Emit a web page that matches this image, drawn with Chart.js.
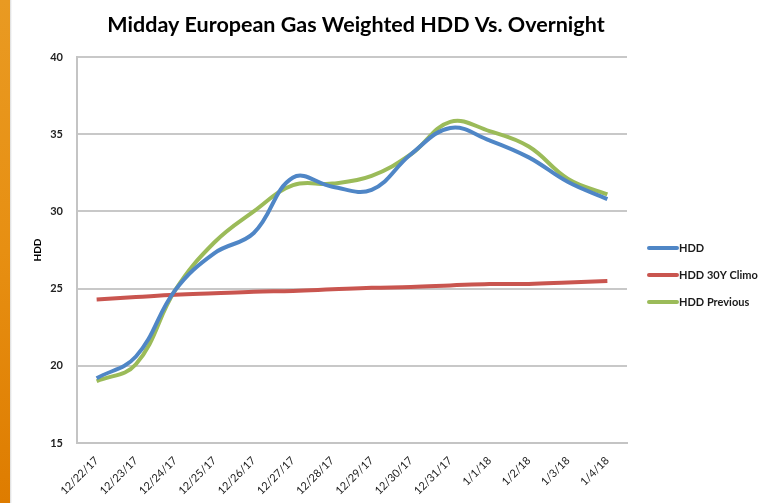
<!DOCTYPE html>
<html>
<head>
<meta charset="utf-8">
<script src="https://cdn.jsdelivr.net/npm/chart.js@4/dist/chart.umd.min.js"></script>
<style>
  html, body { margin: 0; padding: 0; }
  body {
    width: 765px; height: 503px; overflow: hidden;
    background: linear-gradient(to right, transparent 0, transparent 10px, #d9d9d9 10px, #ffffff 12px),
                linear-gradient(to bottom, #e99a22 0%, #e78f12 50%, #de7c00 100%);
    background-size: 765px 503px, 10px 503px;
    background-repeat: no-repeat;
    background-color: #fff;
  }
  #wrap { position: absolute; left: 0; top: 0; width: 765px; height: 503px; }
</style>
</head>
<body>
<div id="wrap"><canvas id="c" width="765" height="503"></canvas></div>
<script>
const categories = ["12/22/17","12/23/17","12/24/17","12/25/17","12/26/17","12/27/17","12/28/17","12/29/17","12/30/17","12/31/17","1/1/18","1/2/18","1/3/18","1/4/18"];
const hdd = [19.2, 20.6, 24.9, 27.3, 28.6, 32.2, 31.6, 31.4, 33.7, 35.4, 34.6, 33.5, 31.9, 30.8];
const hddClimo = [24.3, 24.45, 24.6, 24.7, 24.8, 24.85, 24.95, 25.05, 25.1, 25.2, 25.3, 25.3, 25.4, 25.5];
const hddPrevious = [19.0, 20.1, 24.9, 28.0, 30.0, 31.7, 31.8, 32.3, 33.7, 35.8, 35.2, 34.2, 32.1, 31.1];
const yTicks = [15, 20, 25, 30, 35, 40];
const titleText = "Midday European Gas Weighted HDD Vs. Overnight";
const yTitle = "HDD";

const FONT = "Lato, 'Liberation Sans', sans-serif";

const decorPlugin = {
  id: 'decor',
  afterDraw(chart) {
    const ctx = chart.ctx;
    ctx.save();
    // title
    ctx.fillStyle = '#000';
    ctx.font = "bold 21.5px " + FONT;
    ctx.textAlign = 'center';
    ctx.textBaseline = 'alphabetic';
    ctx.fillText(titleText, 356, 32);
    // legend
    const x0 = 649, x1 = 677, ys = [248, 275, 302];
    chart.data.datasets.forEach((ds, i) => {
      const y = ys[i];
      ctx.strokeStyle = ds.borderColor;
      ctx.lineWidth = 4;
      ctx.lineCap = 'round';
      ctx.beginPath(); ctx.moveTo(x0, y); ctx.lineTo(x1, y); ctx.stroke();
      ctx.fillStyle = '#1a1a1a';
      ctx.font = "bold 11px " + FONT;
      ctx.textBaseline = 'middle';
      ctx.textAlign = 'left';
      ctx.fillText(ds.label, x1 + 2, y);
    });
    ctx.restore();
  }
};

new Chart(document.getElementById('c'), {
  type: 'line',
  data: {
    labels: categories,
    datasets: [
      { label: 'HDD', data: hdd, borderColor: '#4f86c6', borderWidth: 4, tension: 0.4, pointRadius: 0, fill: false },
      { label: 'HDD 30Y Climo', data: hddClimo, borderColor: '#c9554f', borderWidth: 4, tension: 0.4, pointRadius: 0, fill: false },
      { label: 'HDD Previous', data: hddPrevious, borderColor: '#9bbb59', borderWidth: 4, tension: 0.4, pointRadius: 0, fill: false }
    ]
  },
  options: {
    responsive: false,
    animation: false,
    layout: { padding: { left: 0, right: 138, top: 57, bottom: 0 } },
    plugins: {
      legend: { display: false },
      tooltip: { enabled: false },
      title: { display: false }
    },
    scales: {
      x: {
        offset: true,
        grid: { display: false, drawTicks: false },
        border: { display: true, color: '#c4c4c4', width: 2 },
        ticks: {
          color: '#222', font: { family: FONT, size: 11 },
          maxRotation: 45, minRotation: 45, autoSkip: false, padding: 11
        },
        afterFit(s) { s.height = 60; }
      },
      y: {
        min: 15, max: 40,
        afterBuildTicks(s) { s.ticks = yTicks.map(v => ({ value: v })); },
        grid: { color: '#c8c8c8', lineWidth: 2, drawTicks: false },
        border: { display: true, color: '#c4c4c4', width: 2 },
        ticks: { color: '#222', font: { family: FONT, size: 11, weight: 'bold' }, padding: 14 },
        title: { display: true, text: yTitle, color: '#000', font: { family: FONT, size: 10, weight: 'bold' }, padding: { top: 32, bottom: 0 } },
        afterFit(s) { s.width = 77; }
      }
    }
  },
  plugins: [decorPlugin]
});
</script>
</body>
</html>
